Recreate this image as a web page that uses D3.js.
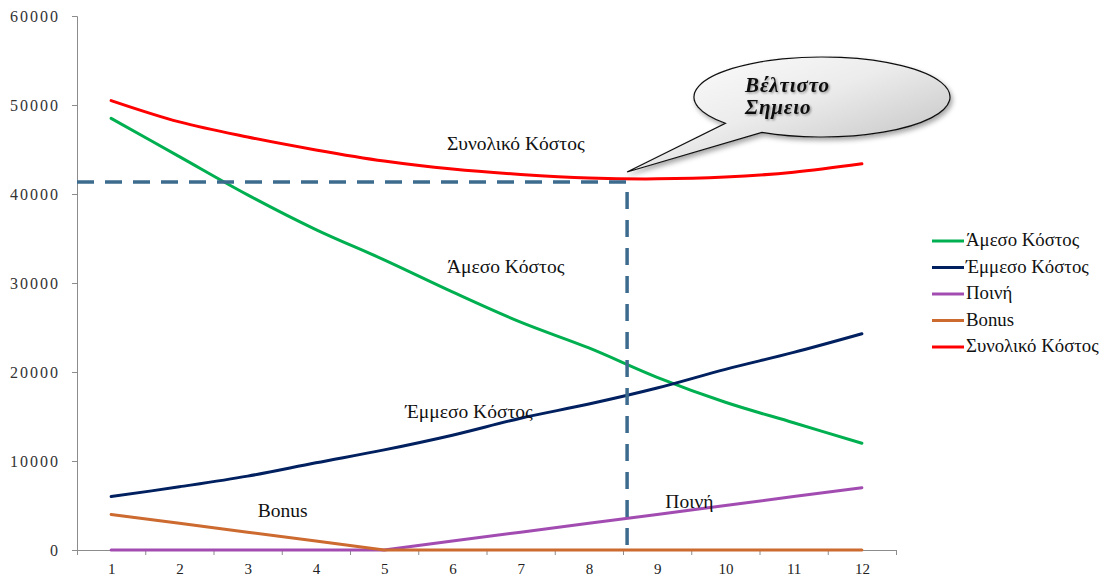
<html>
<head>
<meta charset="utf-8">
<script src="https://cdn.jsdelivr.net/npm/d3@7/dist/d3.min.js"></script>
</head>
<body style="margin:0">
<svg id="chart" width="1106" height="577"></svg>
<script>
// Periods (x categories)
const periods = [1, 2, 3, 4, 5, 6, 7, 8, 9, 10, 11, 12];

// Cost series per period
const directCost   = [48500, 44200, 39900, 36000, 32600, 29000, 25600, 22700, 19400, 16600, 14300, 12000];
const indirectCost = [6000, 7100, 8300, 9800, 11250, 12900, 14800, 16400, 18200, 20300, 22200, 24300];
const penalty      = [0, 0, 0, 0, 0, 1000, 2000, 3000, 4000, 5000, 6000, 7000];
const bonus        = [4000, 3000, 2000, 1000, 0, 0, 0, 0, 0, 0, 0, 0];
const totalCost    = [50500, 48100, 46400, 44950, 43700, 42800, 42200, 41800, 41700, 41900, 42450, 43400];

// Y axis ticks
const yTicks = [0, 10000, 20000, 30000, 40000, 50000, 60000];

// Optimum point (period position, cost)
const optimumPeriod = 8.56;
const optimumCost = 41350;

const seriesNames = ["Άμεσο Κόστος", "Έμμεσο Κόστος", "Ποινή", "Bonus", "Συνολικό Κόστος"];
const seriesColors = ["#00b050", "#002060", "#a24cb2", "#cc6a30", "#ff0000"];
const seriesValues = [directCost, indirectCost, penalty, bonus, totalCost];
const seriesSmooth = [true, true, false, false, true];

const SERIF = '"Liberation Serif"';
const BASE = 24; // text is set at this size and scaled down to the wanted size
const svg = d3.select("#chart");

const plotLeft = 77, plotRight = 896, plotTop = 16, plotBottom = 550;
const x = d3.scaleLinear().domain([0.5, 12.5]).range([plotLeft, plotRight]);
const y = d3.scaleLinear().domain([0, 60000]).range([plotBottom, plotTop]);

// Place a text at (px, py) rendered at size `size`
function label(parent, px, py, size, txt) {
  const k = size / BASE;
  return parent.append("text")
    .attr("transform", `translate(${px},${py}) scale(${k})`)
    .style("font-family", SERIF)
    .style("font-size", BASE + "px")
    .attr("fill", "#111")
    .text(txt);
}

// Rescale axis tick texts to `size`, keeping their anchor positions
function scaleTicks(g, size) {
  const k = size / BASE;
  g.attr("font-family", null).attr("font-size", null);
  g.selectAll(".tick text").each(function () {
    const t = d3.select(this);
    const tx = +t.attr("x") || 0, ty = +t.attr("y") || 0;
    t.attr("x", tx / k).attr("y", ty / k)
      .attr("transform", `scale(${k})`)
      .style("font-family", SERIF)
      .style("font-size", BASE + "px");
  });
}

// defs: callout gradient and shadows
const defs = svg.append("defs");
const grad = defs.append("linearGradient").attr("id", "calloutFill")
  .attr("x1", "0%").attr("y1", "0%").attr("x2", "100%").attr("y2", "100%");
grad.append("stop").attr("offset", "0%").attr("stop-color", "#ffffff");
grad.append("stop").attr("offset", "45%").attr("stop-color", "#ececec");
grad.append("stop").attr("offset", "100%").attr("stop-color", "#b8b8b8");
const sh = defs.append("filter").attr("id", "shadow").attr("x", "-20%").attr("y", "-20%").attr("width", "140%").attr("height", "160%");
sh.append("feDropShadow").attr("dx", 2).attr("dy", 3).attr("stdDeviation", 2.5)
  .attr("flood-color", "#000").attr("flood-opacity", 0.35);
const tsh = defs.append("filter").attr("id", "textShadow");
tsh.append("feDropShadow").attr("dx", 1.3).attr("dy", 1.3).attr("stdDeviation", 1)
  .attr("flood-color", "#000").attr("flood-opacity", 0.4);

// Y axis
const yAxis = d3.axisLeft(y).tickValues(yTicks).tickSize(5).tickPadding(12).tickFormat(d3.format("d"));
const gy = svg.append("g").attr("transform", `translate(${plotLeft},0)`).call(yAxis);
gy.select(".domain").attr("stroke", "#8c8c8c");
gy.selectAll(".tick line").attr("stroke", "#8c8c8c");
scaleTicks(gy, 16);
gy.selectAll(".tick text").style("letter-spacing", "3px").attr("fill", "#333");

// X axis: boundary ticks between periods, labels at period centers
const boundaries = d3.range(0.5, 13, 1);
const xTickAxis = d3.axisBottom(x).tickValues(boundaries).tickSize(5).tickFormat("");
const gxt = svg.append("g").attr("transform", `translate(0,${plotBottom})`).call(xTickAxis);
gxt.select(".domain").attr("stroke", "#8c8c8c");
gxt.selectAll(".tick line").attr("stroke", "#8c8c8c");

const xLabelAxis = d3.axisBottom(x).tickValues(periods).tickSize(0).tickPadding(13).tickFormat(d3.format("d"));
const gxl = svg.append("g").attr("transform", `translate(0,${plotBottom})`).call(xLabelAxis);
gxl.select(".domain").remove();
scaleTicks(gxl, 15);
gxl.selectAll(".tick text").attr("fill", "#222");

// Series lines
const smoothLine = d3.line()
  .x((d, i) => x(periods[i]))
  .y(d => y(d))
  .curve(d3.curveCatmullRom.alpha(0.5));
const straightLine = d3.line()
  .x((d, i) => x(periods[i]))
  .y(d => y(d));

seriesValues.forEach((vals, k) => {
  svg.append("path")
    .datum(vals)
    .attr("fill", "none")
    .attr("stroke", seriesColors[k])
    .attr("stroke-width", 3)
    .attr("stroke-linecap", "round")
    .attr("stroke-linejoin", "round")
    .attr("d", seriesSmooth[k] ? smoothLine : straightLine);
});

// Dashed guides to the optimum
const ox = x(optimumPeriod), oy = y(optimumCost);
svg.append("path")
  .attr("d", `M${plotLeft},${oy} H${ox} V${plotBottom}`)
  .attr("fill", "none")
  .attr("stroke", "#3d6b8e")
  .attr("stroke-width", 3.5)
  .attr("stroke-dasharray", "17,11");

// Inline series labels (position in period units and cost units)
const inline = [
  { t: "Συνολικό Κόστος", px: 5.92, v: 44950 },
  { t: "Άμεσο Κόστος", px: 5.92, v: 31150 },
  { t: "Έμμεσο Κόστος", px: 5.31, v: 14850 },
  { t: "Bonus", px: 3.15, v: 3700 },
  { t: "Ποινή", px: 9.12, v: 4720 }
];
const inlineG = svg.append("g");
inline.forEach(d => label(inlineG, x(d.px), y(d.v), 19.5, d.t));

// Callout bubble
const cx = 822, cy = 97, rx = 128, ry = 40;
const a1 = 139 * Math.PI / 180, a2 = 118 * Math.PI / 180;
const p1 = [cx + rx * Math.cos(a1), cy + ry * Math.sin(a1)];
const p2 = [cx + rx * Math.cos(a2), cy + ry * Math.sin(a2)];
const tip = [ox, oy - 10];
svg.append("path")
  .attr("d", `M${p2[0]},${p2[1]} A${rx},${ry} 0 1 0 ${p1[0]},${p1[1]} L${tip[0]},${tip[1]} Z`)
  .attr("fill", "url(#calloutFill)")
  .attr("stroke", "#111")
  .attr("stroke-width", 1.2)
  .attr("filter", "url(#shadow)");

const calloutG = svg.append("g").attr("filter", "url(#textShadow)");
["Βέλτιστο", "Σημειο"].forEach((t, i) => {
  label(calloutG, 745, 92 + i * 22, 21, t)
    .style("font-weight", "bold")
    .style("font-style", "italic")
    .style("letter-spacing", "1px");
});

// Legend
const legend = svg.append("g").attr("transform", "translate(932,241)");
seriesNames.forEach((name, k) => {
  const g = legend.append("g").attr("transform", `translate(0,${k * 26.5})`);
  g.append("line").attr("x1", 0).attr("x2", 32).attr("y1", 0).attr("y2", 0)
    .attr("stroke", seriesColors[k]).attr("stroke-width", 3);
  label(g, 34, 5, 18.8, name);
});
</script>
</body>
</html>
